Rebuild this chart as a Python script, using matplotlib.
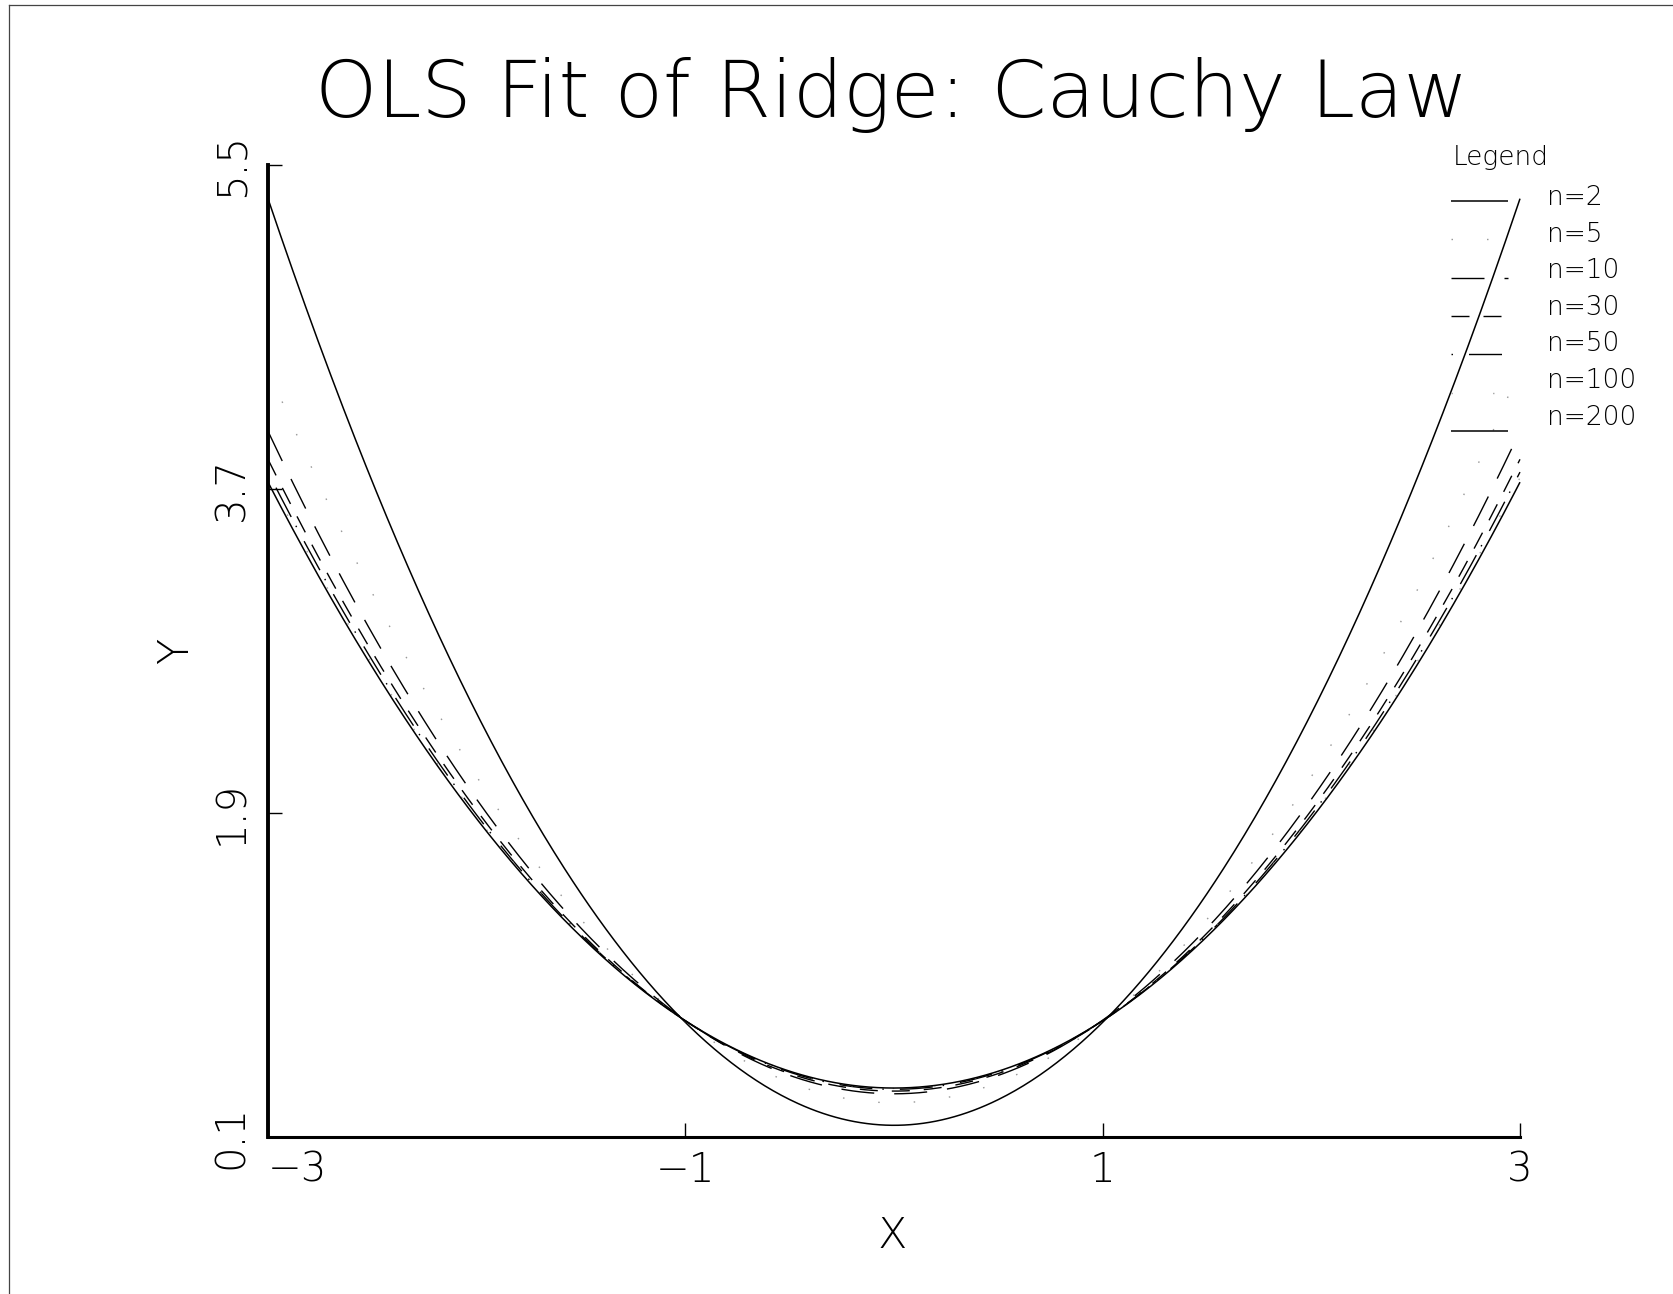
import numpy as np
import matplotlib
matplotlib.use("Agg")
import matplotlib.pyplot as plt
from matplotlib.lines import Line2D

plt.rcParams['font.family'] = ['DejaVu Sans']
plt.rcParams['lines.scale_dashes'] = False

# ---- data: fitted quadratic curves y = intercept + coef_x2 * x^2 ----
labels = ["n=2", "n=5", "n=10", "n=30", "n=50", "n=100", "n=200"]
intercept = [0.165, 0.29, 0.34, 0.355, 0.365, 0.37, 0.372]
coef_x2 = [0.572, 0.453, 0.409, 0.390, 0.381, 0.377, 0.374]

x_ticks = [-3, -1, 1, 3]
x_ticklabels = ["\u22123", "\u22121", "1", "3"]
y_ticks = [0.1, 1.9, 3.7, 5.5]
y_ticklabels = ["0.1", "1.9", "3.7", "5.5"]

W, H = 1673, 1294
DPI = 100
fig = plt.figure(figsize=(W / DPI, H / DPI), dpi=DPI)

# px -> pt
def pt(px):
    return px * 72.0 / DPI

# styles per series (dash lengths in px)
styles = [
    dict(color="black", lw=1.1, ls="-"),
    dict(color="#999999", lw=1.0, ls=(0, (pt(1.5), pt(34)))),
    dict(color="black", lw=1.0, ls=(0, (pt(33), pt(20)))),
    dict(color="black", lw=1.0, ls=(0, (pt(18), pt(14)))),
    dict(color="black", lw=1.0, ls=(0, (pt(1.5), pt(16), pt(33), pt(10)))),
    dict(color="#aaaaaa", lw=1.0, ls=(0, (pt(1.5), pt(40)))),
    dict(color="black", lw=1.1, ls="-"),
]

left_px, right_px, top_px, bottom_px = 268, 1520, 165, 1137
ax = fig.add_axes([left_px / W, 1 - bottom_px / H,
                   (right_px - left_px) / W, (bottom_px - top_px) / H])

xs = np.linspace(-3, 3, 601)
for a, b, st in zip(intercept, coef_x2, styles):
    ax.plot(xs, a + b * xs ** 2, color=st["color"], lw=st["lw"],
            linestyle=st["ls"], solid_capstyle="butt", clip_on=False)

ax.set_xlim(-3, 3)
ax.set_ylim(0.1, 5.5)
for s in ["top", "right"]:
    ax.spines[s].set_visible(False)
ax.spines["left"].set_linewidth(2.8)
ax.spines["bottom"].set_linewidth(2.2)

ax.set_xticks(x_ticks)
ax.set_xticklabels(x_ticklabels)
ax.set_yticks(y_ticks)
ax.set_yticklabels(y_ticklabels, rotation=90, va="center")
ax.tick_params(axis="both", direction="in", length=pt(14), width=1.0,
               labelsize=29)
ax.tick_params(axis="x", pad=10)
ax.tick_params(axis="y", pad=12)
for lab in ax.get_xticklabels():
    lab.set_fontweight("light")
for lab in ax.get_yticklabels():
    lab.set_fontweight("light")
ax.get_xticklabels()[0].set_horizontalalignment("left")

ax.set_xlabel("X", fontsize=31, fontweight="light")
ax.set_ylabel("Y", fontsize=31, fontweight="light")
ax.xaxis.set_label_coords((892 - left_px) / (right_px - left_px),
                          -(1236 - bottom_px) / (bottom_px - top_px))
ax.xaxis.label.set_verticalalignment("center")
ax.yaxis.set_label_coords(-(left_px - 176) / (right_px - left_px), 0.5)
ax.yaxis.label.set_verticalalignment("center")

fig.text(892 / W, 1 - 117 / H, "OLS Fit of Ridge: Cauchy Law",
         fontsize=57, fontweight="light", ha="center", va="baseline")

# ---- legend (manual) ----
fig.text(1453 / W, 1 - 158 / H, "Legend", fontsize=19, ha="left",
         va="center", fontweight="light")
for i, (lab, st) in enumerate(zip(labels, styles)):
    ty = 197.5 + 36.6 * i
    ly = 201 + 38.3 * i
    fig.text(1547 / W, 1 - ty / H, lab, fontsize=19, ha="left",
             va="center", fontweight="light")
    fig.add_artist(Line2D([1451 / W, 1508 / W], [1 - ly / H, 1 - ly / H],
                          color=st["color"], lw=st["lw"], linestyle=st["ls"],
                          solid_capstyle="butt"))

# ---- page border (top and left) ----
fig.add_artist(Line2D([9 / W, 1.0], [1 - 5 / H, 1 - 5 / H], color="#444444",
                      lw=0.9))
fig.add_artist(Line2D([9 / W, 9 / W], [0.0, 1 - 5 / H], color="#444444",
                      lw=0.9))

fig.savefig("out.png", dpi=DPI, facecolor="white")
